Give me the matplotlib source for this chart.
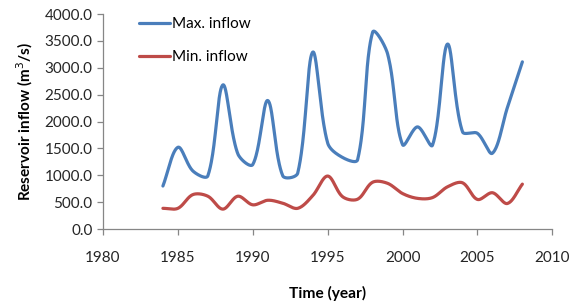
import numpy as np
import matplotlib
matplotlib.use("Agg")
import matplotlib.pyplot as plt

years = list(range(1984, 2009))
max_inflow = [800, 1520, 1080, 990, 2680, 1400, 1200, 2390, 990, 1040, 3290,
              1600, 1330, 1290, 3660, 3260, 1570, 1900, 1560, 3440, 1810,
              1780, 1410, 2260, 3110]
min_inflow = [385, 385, 640, 610, 370, 610, 450, 535, 480, 385, 620,
              985, 600, 555, 870, 850, 660, 570, 585, 785, 860,
              550, 675, 475, 835]
xticks = [1980, 1985, 1990, 1995, 2000, 2005, 2010]
yticks = [0, 500, 1000, 1500, 2000, 2500, 3000, 3500, 4000]

XS, YS = 15.0, 0.05375  # px per data unit, used for chord-length smoothing


def smooth(x, y, n=40, f=1/3):
    P = np.column_stack([np.asarray(x, float) * XS, np.asarray(y, float) * YS])
    m = len(P)
    cin = np.zeros_like(P)
    cout = np.zeros_like(P)
    for i in range(m):
        p0 = P[max(i - 1, 0)]
        p2 = P[min(i + 1, m - 1)]
        d1 = np.linalg.norm(P[i] - p0)
        d2 = np.linalg.norm(p2 - P[i])
        tot = d1 + d2 if d1 + d2 > 0 else 1
        cout[i] = P[i] + (p2 - p0) * f * d2 / tot
        cin[i] = P[i] - (p2 - p0) * f * d1 / tot
    t = np.linspace(0, 1, n)[:, None]
    pts = []
    for i in range(m - 1):
        b = (1 - t) ** 3 * P[i] + 3 * (1 - t) ** 2 * t * cout[i] \
            + 3 * (1 - t) * t ** 2 * cin[i + 1] + t ** 3 * P[i + 1]
        pts.append(b)
    pts = np.vstack(pts)
    return pts[:, 0] / XS, pts[:, 1] / YS


plt.rcParams['font.family'] = ['Lato', 'DejaVu Sans']
fig = plt.figure(figsize=(5.71, 3.06), dpi=100)
ax = fig.add_axes([0.1804, 0.2516, 0.7869, 0.7026])

sx, sy = smooth(years, max_inflow)
ax.plot(sx, sy, color='#4A7EBB', lw=2.3, label='Max. inflow', solid_capstyle='round')
sx, sy = smooth(years, min_inflow)
ax.plot(sx, sy, color='#BE4B48', lw=2.3, label='Min. inflow', solid_capstyle='round')

ax.set_xlim(1980, 2010)
ax.set_ylim(0, 4000)
ax.set_xticks(xticks)
ax.set_yticks(yticks)
ax.set_yticklabels([f"{v:.1f}" for v in yticks])
for s in ['top', 'right']:
    ax.spines[s].set_visible(False)
for s in ['left', 'bottom']:
    ax.spines[s].set_color('#868686')
    ax.spines[s].set_linewidth(0.9)
ax.tick_params(axis='both', direction='out', length=4, color='#868686',
               labelsize=11, labelcolor='#262626', width=0.9)
ax.tick_params(axis='x', pad=12)
ax.set_xlabel('Time (year)', fontsize=11.2, fontweight='bold', labelpad=15)
ax.set_ylabel('Reservoir inflow (m$^3$/s)', fontsize=11, fontweight='bold', labelpad=7)

leg = ax.legend(loc='upper left', bbox_to_anchor=(0.05, 1.05), frameon=False,
                fontsize=11, handlelength=2.0, handletextpad=0.15, labelspacing=1.25)
fig.savefig('out.png', dpi=100)
